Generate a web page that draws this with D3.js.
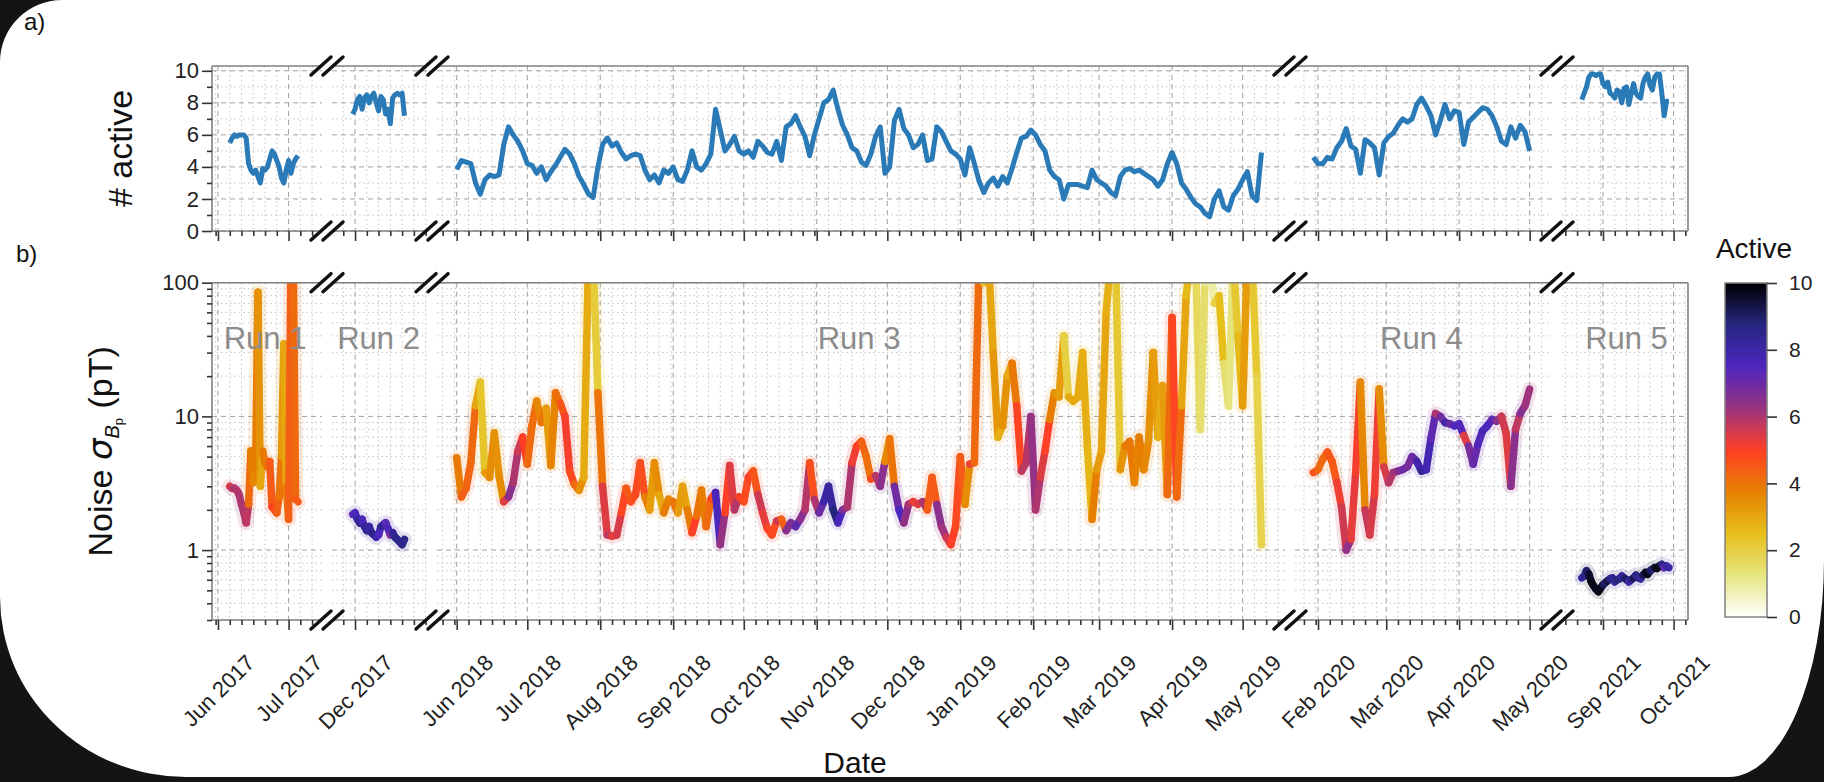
<!DOCTYPE html>
<html lang="en">
<head>
<meta charset="UTF-8">
<title>noise-active-runs</title>
<script src="https://cdnjs.cloudflare.com/ajax/libs/d3/7.8.5/d3.min.js"></script>
<style>
    body { margin: 0; background: #fff; }
    svg { display: block; font-family: "Liberation Sans", Arial, sans-serif; }
</style>
</head>
<body>
<svg id="chart" width="1824" height="782"></svg>
<script>
// ---- data ----
// run 1 : daily from 6 Jun 2017
var run1Start = '2017-06-06', run1Step = 1;
var run1Active = [5.5, 5.8, 6.0, 5.9, 6.0, 6.0, 6.0, 5.8, 4.2, 3.8, 3.6, 3.8, 3.4, 3.0, 3.9,
    3.8, 4.0, 4.5, 5.0, 4.8, 4.4, 4.0, 3.3, 3.0, 3.8, 4.4, 3.6, 4.2, 4.5, 4.7];
var run1Noise = [3.0, 2.9, 2.9, 2.8, 2.6, 2.2, 1.9, 1.6, 2.2, 5.5, 3.2, 4.0, 85, 3.0, 5.5,
    4.5, 4.2, 4.6, 2.1, 2.0, 1.9, 2.5, 5.0, 35, 3.0, 1.7, 150, 150, 2.4, 2.3];

// run 2 : daily from 30 Nov 2017
var run2Start = '2017-11-30', run2Step = 1;
var run2Active = [7.3, 7.6, 8.2, 8.4, 7.6, 8.3, 8.5, 8.0, 8.4, 8.6, 8.0, 7.5, 8.4, 8.2, 7.3,
    7.6, 6.7, 8.3, 8.5, 8.6, 8.5, 8.6, 7.2];
var run2Noise = [1.85, 1.9, 1.7, 1.6, 1.7, 1.5, 1.4, 1.5, 1.35, 1.3, 1.25, 1.3, 1.5, 1.55, 1.6,
    1.45, 1.3, 1.35, 1.25, 1.2, 1.15, 1.1, 1.2];

// run 3 : every 2 days from 1 Jun 2018
var run3Start = '2018-06-01', run3Step = 2;
var run3Active = [
    3.85, 4.4, 4.3, 4.2, 3.0, 2.3, 3.2, 3.5, 3.4, 3.5,
    5.4, 6.5, 6.0, 5.6, 5.0, 4.2, 4.1, 3.6, 4.0, 3.2,
    3.7, 4.1, 4.6, 5.1, 4.8, 4.2, 3.4, 2.9, 2.3, 2.1,
    4.0, 5.4, 5.8, 5.3, 5.5, 4.9, 4.5, 4.7, 4.8, 4.7,
    3.8, 3.2, 3.5, 3.0, 3.8, 3.6, 4.0, 3.2, 3.1, 3.8,
    5.0, 4.0, 3.8, 4.2, 4.8, 7.6, 6.3, 5.0, 5.4, 5.9,
    5.0, 4.8, 5.0, 4.6, 5.6, 5.3, 4.9, 4.8, 5.6, 4.4,
    6.5, 6.7, 7.2, 6.5, 5.9, 4.7, 6.0, 7.0, 8.0, 8.2,
    8.8, 7.6, 6.6, 6.0, 5.2, 5.0, 4.3, 4.1, 4.8, 5.9,
    6.5, 3.6, 4.0, 6.9, 7.6, 6.4, 6.0, 5.2, 5.4, 6.0,
    4.4, 4.5, 6.5, 6.2, 5.6, 5.0, 4.8, 4.5, 3.5, 5.2,
    4.2, 3.1, 2.4, 3.0, 3.3, 2.8, 3.4, 3.0, 3.9, 4.9,
    5.8, 5.9, 6.3, 6.0, 5.4, 5.0, 3.8, 3.4, 3.2, 2.0,
    2.9, 2.9, 2.9, 2.8, 2.7, 3.8, 3.2, 3.0, 2.8, 2.4,
    2.2, 3.4, 3.8, 3.9, 3.7, 3.8, 3.6, 3.4, 3.2, 2.8,
    3.2, 4.2, 4.9, 4.2, 3.0, 2.6, 2.1, 1.7, 1.5, 1.1,
    0.9, 2.0, 2.5, 1.5, 1.3, 2.2, 2.6, 3.2, 3.7, 2.2,
    1.9, 4.9];
var run3Noise = [
    4.9, 2.5, 2.9, 4.5, 12, 18, 3.8, 3.5, 7.5, 3.6,
    2.3, 2.5, 3.2, 5.5, 7.0, 4.4, 8.5, 13, 9.0, 11.5,
    4.3, 15, 12.5, 10, 3.9, 3.1, 2.8, 3.5, 150, 150,
    15, 3.0, 1.3, 1.27, 1.3, 1.9, 2.9, 2.3, 2.6, 4.5,
    2.5, 2.0, 4.5, 2.6, 1.9, 2.4, 2.3, 1.9, 3.0, 2.0,
    1.35, 1.8, 2.8, 1.5, 2.4, 2.7, 1.1, 1.9, 4.3, 2.0,
    2.5, 2.3, 3.5, 3.9, 2.6, 1.9, 1.45, 1.3, 1.65, 1.7,
    1.4, 1.6, 1.5, 1.7, 2.0, 4.5, 2.4, 1.9, 2.3, 3.0,
    2.0, 1.6, 2.0, 2.1, 4.5, 6.0, 6.5, 5.0, 3.4, 3.6,
    3.0, 4.6, 6.8, 3.0, 2.0, 1.6, 2.2, 2.3, 2.2, 2.3,
    2.0, 3.5, 2.2, 1.5, 1.25, 1.1, 1.5, 5.0, 2.2, 4.4,
    4.5, 150, 100, 150, 30, 7, 8.5, 20, 25, 12,
    3.9, 4.5, 10, 2.0, 3.5, 5.5, 9.5, 15, 14, 40,
    14, 13, 14, 30, 6, 1.7, 4.0, 5.5, 60, 150,
    150, 4.0, 6.0, 6.5, 3.2, 7.0, 4.0, 6.5, 30, 7,
    17, 2.6, 55, 2.5, 12, 80, 150, 150, 8, 100,
    150, 70, 80, 25, 12, 150, 40, 12, 150, 150,
    20, 1.1];

// run 4 : every 2 days from 30 Jan 2020
var run4Start = '2020-01-30', run4Step = 2;
var run4Active = [4.6, 4.2, 4.2, 4.6, 4.5, 5.2, 5.6, 6.4, 5.3, 5.1, 3.6, 5.7, 5.5, 5.2, 3.5,
    5.5, 5.9, 6.1, 6.6, 7.0, 6.8, 7.0, 7.9, 8.3, 7.8, 7.2, 6.0, 6.9, 7.9, 7.0,
    7.5, 7.4, 5.4, 6.8, 7.1, 7.4, 7.7, 7.6, 7.2, 6.5, 5.6, 5.4, 6.5, 5.8, 6.6, 6.2, 5.0];
var run4Noise = [3.8, 4.0, 4.8, 5.4, 4.6, 3.2, 2.1, 1.0, 1.2, 3.8, 18, 2.0, 1.3, 2.6, 16,
    4.2, 3.2, 3.8, 3.9, 4.0, 4.2, 5.0, 4.6, 3.9, 4.0, 6.8, 10.5, 10, 9.0, 8.8,
    8.5, 8.8, 7.2, 6.0, 4.4, 6.2, 7.8, 8.5, 9.5, 9.2, 10, 7.5, 3.0, 8.0, 10.5, 12, 16];

// run 5 : daily from 23 Aug 2021
var run5Start = '2021-08-23', run5Step = 1;
var run5Active = [8.2, 8.6, 9.0, 9.6, 9.8, 9.8, 9.7, 9.8, 9.8, 9.2, 9.0, 9.3, 8.6, 8.5, 8.3,
    8.8, 8.7, 8.0, 8.9, 9.0, 7.9, 8.6, 9.2, 8.6, 8.4, 8.3, 9.2, 9.6, 9.8, 9.1,
    8.8, 9.6, 9.8, 9.8, 8.6, 7.2, 8.1, 8.1];
var run5Noise = [0.62, 0.64, 0.70, 0.66, 0.58, 0.54, 0.51, 0.49, 0.52, 0.55, 0.57, 0.59, 0.61, 0.62, 0.58,
    0.60, 0.61, 0.64, 0.62, 0.60, 0.58, 0.60, 0.62, 0.65, 0.62, 0.61, 0.65, 0.68, 0.66, 0.70,
    0.72, 0.74, 0.73, 0.76, 0.78, 0.74, 0.76, 0.74];

var runNames = ['Run 1', 'Run 2', 'Run 3', 'Run 4', 'Run 5'];
var runLabelDates = ['2017-06-21', '2017-12-11', '2018-11-19', '2020-03-16', '2021-09-11'];

// date ranges shown by the five pieces of the broken time axis
var segStarts = ['2017-05-29T11:00', '2017-11-21T05:00', '2018-05-23T15:00', '2020-01-22T05:00', '2021-08-14T14:00'];
var segEnds = ['2017-07-15T05:00', '2017-12-31T14:00', '2019-05-19T00:00', '2020-05-10T12:00', '2021-10-07T03:00'];

var activeTicks = [0, 2, 4, 6, 8, 10];
var activeMinor = [1, 3, 5, 7, 9];
var noiseTicks = [1, 10, 100];
var noiseMinor = [0.3, 0.4, 0.5, 0.6, 0.7, 0.8, 0.9, 2, 3, 4, 5, 6, 7, 8, 9, 20, 30, 40, 50, 60, 70, 80, 90];
var barTicks = [0, 2, 4, 6, 8, 10];

// CMRmap reversed, sampled at active = 0, 1.25, ... 10
var cmapStops = [0, 1.25, 2.5, 3.75, 5, 6.25, 7.5, 8.75, 10];
var cmapColours = ['#ffffff', '#e6e680', '#e6bf1a', '#e68000', '#ff4026', '#993380', '#4d26bf', '#262680', '#000000'];

// ---- layout ----
var font = '"Liberation Sans", Arial, sans-serif';
var segLeft = [212, 332, 437, 1295, 1562];
var segRight = [322, 427, 1285, 1552, 1688];
var topPanel = {top: 66, bottom: 231};
var botPanel = {top: 282.7, bottom: 620};
var plotLeft = 212, plotRight = 1688;

var parseDay = d3.utcParse('%Y-%m-%d');
var parseTime = d3.utcParse('%Y-%m-%dT%H:%M');

var svg = d3.select('#chart');

var xScales = segStarts.map(function (s, k) {
    return d3.scaleUtc()
        .domain([parseTime(s), parseTime(segEnds[k])])
        .range([segLeft[k], segRight[k]]);
});

var yTop = d3.scaleLinear().domain([0, 10.3]).range([topPanel.bottom, topPanel.top]);
var yBot = d3.scaleLog().domain([0.3, 100]).range([botPanel.bottom, botPanel.top]);
var colour = d3.scaleLinear().domain(cmapStops).range(cmapColours).clamp(true);

var runs = [
    {seg: 0, start: run1Start, step: run1Step, active: run1Active, noise: run1Noise},
    {seg: 1, start: run2Start, step: run2Step, active: run2Active, noise: run2Noise},
    {seg: 2, start: run3Start, step: run3Step, active: run3Active, noise: run3Noise},
    {seg: 3, start: run4Start, step: run4Step, active: run4Active, noise: run4Noise},
    {seg: 4, start: run5Start, step: run5Step, active: run5Active, noise: run5Noise}
];
runs.forEach(function (r, k) {
    var t0 = parseDay(r.start);
    r.name = runNames[k];
    r.labelDate = parseDay(runLabelDates[k]);
    r.points = r.active.map(function (a, i) {
        return {date: d3.utcDay.offset(t0, i * r.step), active: a, noise: r.noise[i]};
    });
});

// clip paths
var defs = svg.append('defs');
defs.append('clipPath').attr('id', 'clipTop').append('rect')
    .attr('x', plotLeft).attr('y', topPanel.top)
    .attr('width', plotRight - plotLeft).attr('height', topPanel.bottom - topPanel.top);
defs.append('clipPath').attr('id', 'clipBot').append('rect')
    .attr('x', plotLeft).attr('y', botPanel.top)
    .attr('width', plotRight - plotLeft).attr('height', botPanel.bottom - botPanel.top);

function minorDays(x) {
    var d = x.domain();
    return d3.utcDay.every(5).range(d[0], d[1]).filter(function (t) { return t.getUTCDate() !== 1; });
}
function majorMonths(x) {
    var d = x.domain();
    return d3.utcMonth.range(d[0], d[1]);
}

// grid
function drawGrid(panel, y, majorVals, minorVals) {
    var g = svg.append('g');
    xScales.forEach(function (x) {
        var r = x.range();
        g.selectAll(null).data(minorDays(x)).enter().append('line')
            .attr('x1', x).attr('x2', x)
            .attr('y1', panel.top).attr('y2', panel.bottom)
            .attr('stroke', '#c4c4c4').attr('stroke-width', 1).attr('stroke-dasharray', '1.5,3');
        g.selectAll(null).data(minorVals).enter().append('line')
            .attr('x1', r[0]).attr('x2', r[1])
            .attr('y1', y).attr('y2', y)
            .attr('stroke', '#c4c4c4').attr('stroke-width', 1).attr('stroke-dasharray', '1.5,3');
        g.selectAll(null).data(majorMonths(x)).enter().append('line')
            .attr('x1', x).attr('x2', x)
            .attr('y1', panel.top).attr('y2', panel.bottom)
            .attr('stroke', '#a0a0a0').attr('stroke-width', 1).attr('stroke-dasharray', '5,4');
        g.selectAll(null).data(majorVals).enter().append('line')
            .attr('x1', r[0]).attr('x2', r[1])
            .attr('y1', y).attr('y2', y)
            .attr('stroke', '#a0a0a0').attr('stroke-width', 1).attr('stroke-dasharray', '5,4');
    });
}
drawGrid(topPanel, yTop, activeTicks, activeMinor);
drawGrid(botPanel, yBot, noiseTicks, noiseMinor);

// top panel : number of active stations
var gTop = svg.append('g').attr('clip-path', 'url(#clipTop)');
runs.forEach(function (r) {
    var x = xScales[r.seg];
    var line = d3.line()
        .x(function (d) { return x(d.date); })
        .y(function (d) { return yTop(d.active); });
    gTop.append('path')
        .datum(r.points)
        .attr('d', line)
        .attr('fill', 'none')
        .attr('stroke', '#2a7ab8')
        .attr('stroke-width', 5)
        .attr('stroke-linejoin', 'round');
});

// bottom panel : noise, coloured by number active
var gBot = svg.append('g').attr('clip-path', 'url(#clipBot)');
runs.forEach(function (r) {
    var x = xScales[r.seg];
    var pairs = d3.pairs(r.points);
    // soft wide pass underneath, stands in for the faint raw traces
    gBot.append('g').attr('opacity', 0.14).selectAll(null)
        .data(pairs)
        .enter()
        .append('line')
        .attr('x1', function (p) { return x(p[0].date); })
        .attr('y1', function (p) { return yBot(p[0].noise); })
        .attr('x2', function (p) { return x(p[1].date); })
        .attr('y2', function (p) { return yBot(p[1].noise); })
        .attr('stroke', function (p) { return colour(p[0].active); })
        .attr('stroke-width', 15)
        .attr('stroke-linecap', 'round');
    gBot.selectAll(null)
        .data(pairs)
        .enter()
        .append('line')
        .attr('x1', function (p) { return x(p[0].date); })
        .attr('y1', function (p) { return yBot(p[0].noise); })
        .attr('x2', function (p) { return x(p[1].date); })
        .attr('y2', function (p) { return yBot(p[1].noise); })
        .attr('stroke', function (p) { return colour(p[0].active); })
        .attr('stroke-width', 7.5)
        .attr('stroke-linecap', 'round');
});

// run labels
svg.append('g').selectAll('text')
    .data(runs)
    .enter()
    .append('text')
    .attr('x', function (r) { return xScales[r.seg](r.labelDate); })
    .attr('y', yBot(32))
    .attr('text-anchor', 'middle')
    .attr('font-size', 31)
    .attr('fill', '#8c8c8c')
    .text(function (r) { return r.name; });

// spines
var gSpine = svg.append('g').attr('stroke', '#808080').attr('stroke-width', 1.6);
[topPanel, botPanel].forEach(function (p) {
    xScales.forEach(function (x) {
        var r = x.range();
        gSpine.append('line').attr('x1', r[0]).attr('x2', r[1]).attr('y1', p.top).attr('y2', p.top);
        gSpine.append('line').attr('x1', r[0]).attr('x2', r[1]).attr('y1', p.bottom).attr('y2', p.bottom);
    });
    gSpine.append('line').attr('x1', plotLeft).attr('x2', plotLeft).attr('y1', p.top).attr('y2', p.bottom);
    gSpine.append('line').attr('x1', plotRight).attr('x2', plotRight).attr('y1', p.top).attr('y2', p.bottom);
});

// x ticks
function styleAxis(g) {
    g.select('.domain').remove();
    g.attr('font-size', 22).attr('font-family', font).attr('color', '#333');
    g.selectAll('.tick line').attr('stroke-width', 1.6);
    g.selectAll('.tick text').attr('fill', '#222');
}
function xTicks(yPos, withLabels) {
    xScales.forEach(function (x) {
        var gMinor = svg.append('g')
            .attr('transform', 'translate(0,' + yPos + ')')
            .call(d3.axisBottom(x).tickValues(minorDays(x)).tickSize(5).tickFormat(''));
        styleAxis(gMinor);
        var gMajor = svg.append('g')
            .attr('transform', 'translate(0,' + yPos + ')')
            .call(d3.axisBottom(x).tickValues(majorMonths(x)).tickSize(10)
                .tickFormat(withLabels ? d3.utcFormat('%b %Y') : ''));
        styleAxis(gMajor);
        if (withLabels) {
            gMajor.selectAll('.tick text').each(function () {
                var L = this.getComputedTextLength();
                var half = (L + 16) / Math.SQRT2 / 2;
                d3.select(this)
                    .attr('y', 0)
                    .attr('dy', '0.35em')
                    .attr('text-anchor', 'middle')
                    .attr('transform', 'translate(0,' + (33 + half) + ') rotate(-45)');
            });
        }
    });
}
xTicks(topPanel.bottom, false);
xTicks(botPanel.bottom, true);

// y ticks
var gYTopMinor = svg.append('g').attr('transform', 'translate(' + plotLeft + ',0)')
    .call(d3.axisLeft(yTop).tickValues(activeMinor).tickSize(5).tickFormat(''));
styleAxis(gYTopMinor);
var gYTop = svg.append('g').attr('transform', 'translate(' + plotLeft + ',0)')
    .call(d3.axisLeft(yTop).tickValues(activeTicks).tickSize(10).tickPadding(3).tickFormat(d3.format('d')));
styleAxis(gYTop);
var gYBotMinor = svg.append('g').attr('transform', 'translate(' + plotLeft + ',0)')
    .call(d3.axisLeft(yBot).tickValues(noiseMinor).tickSize(5).tickFormat(''));
styleAxis(gYBotMinor);
var gYBot = svg.append('g').attr('transform', 'translate(' + plotLeft + ',0)')
    .call(d3.axisLeft(yBot).tickValues(noiseTicks).tickSize(10).tickPadding(3).tickFormat(d3.format('d')));
styleAxis(gYBot);

// break marks
var gBreak = svg.append('g').attr('stroke', '#111').attr('stroke-width', 3.5).attr('stroke-linecap', 'round');
for (var k = 0; k < xScales.length - 1; k++) {
    var cx = (segRight[k] + segLeft[k + 1]) / 2;
    [topPanel.top, topPanel.bottom, botPanel.top, botPanel.bottom].forEach(function (yy) {
        [-6, 6].forEach(function (off) {
            gBreak.append('line')
                .attr('x1', cx + off - 10).attr('y1', yy + 9)
                .attr('x2', cx + off + 10).attr('y2', yy - 9);
        });
    });
}

// colour bar
var bar = {left: 1725, right: 1767, top: 283, bottom: 617};
var grad = defs.append('linearGradient').attr('id', 'barGrad')
    .attr('x1', 0).attr('y1', 1).attr('x2', 0).attr('y2', 0);
grad.selectAll('stop')
    .data(cmapStops)
    .enter()
    .append('stop')
    .attr('offset', function (v) { return v / 10; })
    .attr('stop-color', function (v) { return colour(v); });
svg.append('rect')
    .attr('x', bar.left).attr('y', bar.top)
    .attr('width', bar.right - bar.left).attr('height', bar.bottom - bar.top)
    .attr('fill', 'url(#barGrad)')
    .attr('stroke', '#808080').attr('stroke-width', 1.5);
var yBar = d3.scaleLinear().domain([0, 10]).range([bar.bottom, bar.top]);
var gBar = svg.append('g').attr('transform', 'translate(' + bar.right + ',0)')
    .call(d3.axisRight(yBar).tickValues(barTicks).tickSize(10).tickPadding(12));
styleAxis(gBar);
gBar.attr('font-size', 21);
svg.append('text')
    .attr('x', 1754).attr('y', 258)
    .attr('text-anchor', 'middle')
    .attr('font-size', 28)
    .attr('fill', '#111')
    .text('Active');

// axis titles
svg.append('text')
    .attr('transform', 'translate(120,' + (topPanel.top + topPanel.bottom) / 2 + ') rotate(-90)')
    .attr('text-anchor', 'middle')
    .attr('dy', '0.35em')
    .attr('font-size', 34)
    .attr('fill', '#111')
    .text('# active');

var noiseTitle = svg.append('text')
    .attr('transform', 'translate(100,' + (botPanel.top + botPanel.bottom) / 2 + ') rotate(-90)')
    .attr('text-anchor', 'middle')
    .attr('dy', '0.35em')
    .attr('font-size', 34)
    .attr('fill', '#111');
noiseTitle.append('tspan').text('Noise ');
noiseTitle.append('tspan').attr('font-style', 'italic').attr('font-family', '"DejaVu Sans", sans-serif').text('σ');
noiseTitle.append('tspan').attr('font-style', 'italic').attr('font-size', 20).attr('dy', 7).text('B');
noiseTitle.append('tspan').attr('font-size', 13).attr('dy', 4).text('p');
noiseTitle.append('tspan').attr('dy', -11).text(' (pT)');

svg.append('text')
    .attr('x', 855).attr('y', 773)
    .attr('text-anchor', 'middle')
    .attr('font-size', 30)
    .attr('fill', '#111')
    .text('Date');

svg.append('text').attr('x', 24).attr('y', 30).attr('font-size', 24).attr('fill', '#111').text('a)');
svg.append('text').attr('x', 16).attr('y', 262).attr('font-size', 24).attr('fill', '#111').text('b)');

// dark rounded frame of the screenshot
svg.append('path')
    .attr('fill', '#141414')
    .attr('fill-rule', 'evenodd')
    .attr('d', 'M0,0 H1824 V782 H0 Z ' +
        'M62,0 H1824 V560 A95,217 0 0 1 1729,777 H186 A186,180 0 0 1 0,597 V62 A62,62 0 0 1 62,0 Z');
</script>
</body>
</html>
